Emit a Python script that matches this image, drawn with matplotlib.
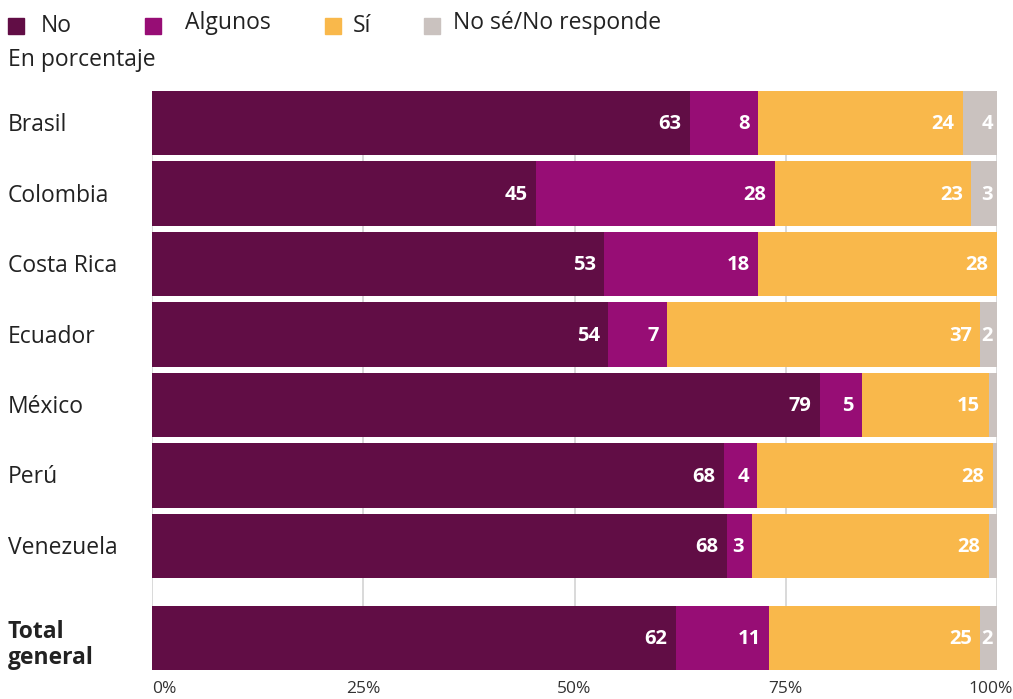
import matplotlib
matplotlib.use("Agg")
import matplotlib.pyplot as plt
import numpy as np

plt.rcParams['font.family'] = ['Open Sans', 'DejaVu Sans']

categories = ["Brasil", "Colombia", "Costa Rica", "Ecuador", "México", "Perú", "Venezuela", "Total\ngeneral"]
series_names = ["No", "Algunos", "Sí", "No sé/No responde"]
no_vals = [63, 45, 53, 54, 79, 68, 68, 62]
algunos_vals = [8, 28, 18, 7, 5, 4, 3, 11]
si_vals = [24, 23, 28, 37, 15, 28, 28, 25]
nsnr_vals = [4, 3, 0, 2, 1, 0.5, 1, 2]
xticks = [0, 25, 50, 75, 100]
xtick_labels = ["0%", "25%", "50%", "75%", "100%"]
colors = ["#610d45", "#970d75", "#f9b84b", "#cac2bf"]

W, H = 1013, 699
fig = plt.figure(figsize=(W / 100, H / 100), dpi=100)
ax_left, ax_right = 152 / W, 997 / W
ax_top, ax_bottom = 1 - 91 / H, 1 - 670 / H
ax = fig.add_axes([ax_left, ax_bottom, ax_right - ax_left, ax_top - ax_bottom])

ypos = np.array([0, 1, 2, 3, 4, 5, 6, 7.305])
bar_h = 0.908
data = np.array([no_vals, algunos_vals, si_vals, nsnr_vals], dtype=float)
totals = data.sum(axis=0)
norm = data / totals * 100

for xv in xticks:
    ax.axvline(xv, color="#cfcfcf", lw=1.1, zorder=0)

left = np.zeros(len(categories))
for i in range(4):
    ax.barh(ypos, norm[i], left=left, height=bar_h, color=colors[i], zorder=2, linewidth=0)
    for j in range(len(categories)):
        v = data[i, j]
        if v >= 2:
            end = left[j] + norm[i, j]
            pad = -3 if i == 3 else -6
            ax.annotate(f"{int(round(v))}", xy=(end, ypos[j]), xytext=(pad, -1),
                        textcoords="offset points", ha="right", va="center",
                        color="white", fontsize=14.5, fontweight="bold", zorder=3)
    left += norm[i]

ax.set_xlim(0, 100)
ax.set_ylim(7.305 + bar_h / 2, -bar_h / 2)
ax.set_xticks([])
ax.set_yticks([])
for s in ax.spines.values():
    s.set_visible(False)

# category labels
for j, cat in enumerate(categories):
    ypix = H - ax.transData.transform((0, ypos[j]))[1]
    bold = (j == len(categories) - 1)
    ypix += 7 if bold else 2
    fig.text(8 / W, 1 - ypix / H, cat, ha="left", va="center", fontsize=16.5,
             fontweight="bold" if bold else "normal", color="#222222",
             linespacing=1.15)

# x tick labels
for xv, lab in zip(xticks, xtick_labels):
    xpix = 152 + xv / 100 * 845
    if xv == 0:
        fig.text(xpix / W, 1 - 689 / H, lab, ha="left", va="center", fontsize=12.5, color="#333333")
    elif xv == 100:
        fig.text(1013 / W, 1 - 689 / H, lab, ha="right", va="center", fontsize=12.5, color="#333333")
    else:
        fig.text(xpix / W, 1 - 689 / H, lab, ha="center", va="center", fontsize=12.5, color="#333333")

# legend
leg_sq_x = [8, 145, 325, 424]
leg_tx_x = [41, 185, 353, 453]
leg_tx_y = [26, 23, 26, 23]
for k in range(4):
    fig.patches.append(plt.Rectangle((leg_sq_x[k] / W, 1 - 34 / H), 16 / W, 16 / H,
                                     transform=fig.transFigure, color=colors[k]))
    fig.text(leg_tx_x[k] / W, 1 - leg_tx_y[k] / H, series_names[k], ha="left", va="center",
             fontsize=16.5, color="#222222")

fig.text(8 / W, 1 - 60 / H, "En porcentaje", ha="left", va="center", fontsize=16.5, color="#222222")

fig.savefig("out.png", dpi=100)
